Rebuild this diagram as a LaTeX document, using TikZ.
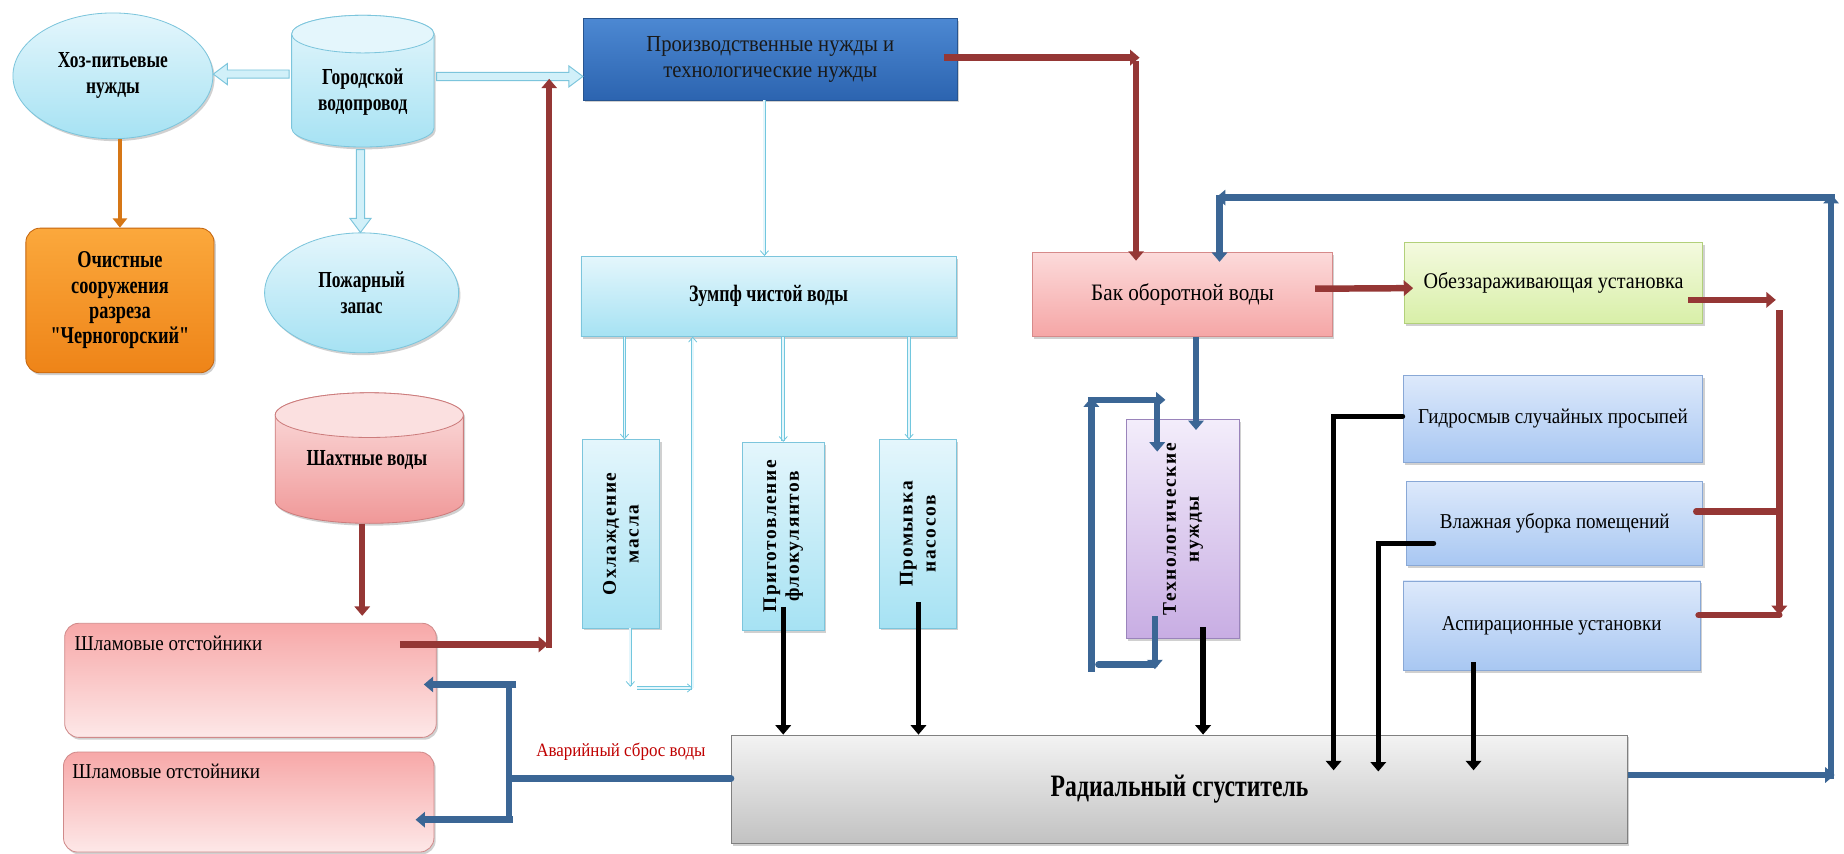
\documentclass[tikz,border=0pt]{standalone}
\usepackage{fontspec}
\setmainfont{Liberation Serif}[FakeStretch=0.76]
\newfontfamily\regf{Liberation Serif}[FakeStretch=0.9]
\newfontfamily\plainq{Liberation Serif}[FakeStretch=0.76]
\newfontfamily\rotfont{Liberation Serif}[LetterSpace=8]
\usetikzlibrary{arrows.meta,calc,shadows,shapes.geometric}
\definecolor{lbT}{HTML}{E4F6FC}\definecolor{lbB}{HTML}{A6E2F3}\definecolor{lbD}{HTML}{7CC5DC}
\definecolor{orT}{HTML}{FBA83C}\definecolor{orB}{HTML}{EE8418}\definecolor{orD}{HTML}{C4650E}
\definecolor{pbT}{HTML}{4C88D2}\definecolor{pbB}{HTML}{2C64B0}\definecolor{pbD}{HTML}{27548F}
\definecolor{pkT}{HTML}{FCDADA}\definecolor{pkB}{HTML}{F5A6A6}\definecolor{pkD}{HTML}{D68A8A}
\definecolor{grT}{HTML}{F4FADF}\definecolor{grB}{HTML}{D8EFA8}\definecolor{grD}{HTML}{B2D07A}
\definecolor{lvT}{HTML}{F3EDFB}\definecolor{lvB}{HTML}{C8ADE3}\definecolor{lvD}{HTML}{9A84BB}
\definecolor{skT}{HTML}{DDE9FB}\definecolor{skB}{HTML}{A8C7F2}\definecolor{skD}{HTML}{89A8D6}
\definecolor{gyT}{HTML}{F3F3F3}\definecolor{gyB}{HTML}{C2C2C2}\definecolor{gyD}{HTML}{808080}
\definecolor{shT}{HTML}{FBE0E0}\definecolor{shB}{HTML}{F09898}\definecolor{shD}{HTML}{CC7C7C}
\definecolor{slT}{HTML}{F7A8A8}\definecolor{slB}{HTML}{FDE8E8}\definecolor{slD}{HTML}{D08A8A}
\definecolor{brn}{HTML}{953735}\definecolor{stb}{HTML}{3B6695}\definecolor{lbl}{HTML}{72C7DE}
\definecolor{redt}{HTML}{C00000}
\def\hs{3.5}\def\hw{9}\def\hl{12}
\newcommand\hollowR[2]{\filldraw[hollowarrow] ($(#1)+(0,-\hs)$) -- ($(#2)+(-\hl,-\hs)$) -- ($(#2)+(-\hl,-\hw)$) -- (#2) -- ($(#2)+(-\hl,\hw)$) -- ($(#2)+(-\hl,\hs)$) -- ($(#1)+(0,\hs)$) -- cycle;}
\newcommand\hollowL[2]{\filldraw[hollowarrow] ($(#1)+(0,-\hs)$) -- ($(#2)+(\hl,-\hs)$) -- ($(#2)+(\hl,-\hw)$) -- (#2) -- ($(#2)+(\hl,\hw)$) -- ($(#2)+(\hl,\hs)$) -- ($(#1)+(0,\hs)$) -- cycle;}
\newcommand\hollowD[2]{\filldraw[hollowarrow] ($(#1)+(-\hs,0)$) -- ($(#2)+(-\hs,-\hl)$) -- ($(#2)+(-\hw,-\hl)$) -- (#2) -- ($(#2)+(\hw,-\hl)$) -- ($(#2)+(\hs,-\hl)$) -- ($(#1)+(\hs,0)$) -- cycle;}
\newcommand\cyl[7]{%
  \path[#6] ({#1-#3/2},{#2-#4/2+#5}) -- ({#1-#3/2},{#2+#4/2-#5})
     arc[start angle=180,end angle=0,x radius=#3/2,y radius=#5]
     -- ({#1+#3/2},{#2-#4/2+#5})
     arc[start angle=0,end angle=-180,x radius=#3/2,y radius=#5] -- cycle;
  \path[#7] (#1,{#2-#4/2+#5}) ellipse[x radius=#3/2,y radius=#5];}
\begin{document}
\begin{tikzpicture}[x=1pt,y=-1pt,
  shd/.style={drop shadow={shadow xshift=1.5pt,shadow yshift=-2pt,opacity=.3,fill=black!60}},
  bx/.style={rectangle,line width=0.7pt,shd,inner sep=2pt,align=center,text=black},
  el/.style={ellipse,line width=0.7pt,shd,inner sep=0pt,align=center},
  lb/.style={draw=lbD,top color=lbT,bottom color=lbB},
  f18b/.style={font=\fontsize{19.5}{22}\selectfont\bfseries},
  f19r/.style={font=\regf\fontsize{19}{22}\selectfont},
  f18r/.style={font=\regf\fontsize{18}{21}\selectfont},
  rot/.style={font=\rotfont\fontsize{16.5}{19.5}\selectfont\bfseries,align=center,rotate=90,inner sep=0pt},
  hollowarrow/.style={draw=lbD,fill=lbT!70!lbB,line width=0.8pt,line join=miter},
  thinb/.style={draw=lbl,line width=0.7pt,double=lbT,double distance=1.6pt,-{Straight Barb[length=4pt,width=7pt]}},
  brw/.style={draw=brn,line width=5.5pt},
  blu/.style={draw=stb,line width=5.5pt},
  blk/.style={draw=black,line width=4.5pt},
  arr/.style={-{Triangle[length=8pt,width=13pt]}},
  rcap/.style={line cap=round}]
\useasboundingbox (0,0) rectangle (1568,726);
\fill[white] (0,0) rectangle (1568,726);

% ---- top-left group
\node[el,lb,f18b,minimum width=170,minimum height=107] (hoz) at (96,64.5) {Хоз-питьевые\\нужды};
\cyl{308.5}{69}{121}{112}{16}{draw=lbD,line width=0.7pt,top color=lbT,bottom color=lbB,shd}{draw=lbD,line width=0.7pt,fill=lbT}
\node[minimum width=121,minimum height=112,inner sep=0pt] (gor) at (308.5,69) {};
\node[f18b,align=center] (gort) at (308.5,78) {Городской\\водопровод};
\node[el,lb,f18b,minimum width=165,minimum height=102] (poz) at (307.5,249) {Пожарный\\запас};
\node[bx,draw=orD,top color=orT,bottom color=orB,rounded corners=12pt,minimum width=160,minimum height=123,font=\fontsize{20.5}{21.5}\selectfont\bfseries] (och) at (102,255.5) {Очистные\\сооружения\\разреза\\{\plainq\bfseries"}Черногорский{\plainq\bfseries"}};

% ---- Шахтные воды
\cyl{314}{389.5}{160}{111}{19}{draw=shD,line width=0.7pt,top color=shT,bottom color=shB,shd}{draw=shD,line width=0.7pt,fill=shT}
\node[minimum width=160,minimum height=111,inner sep=0pt] (shaht) at (314,389.5) {};
\node[f18b] (shahtt) at (312,391) {Шахтные воды};

% ---- Шламовые
\node[bx,draw=slD,top color=slT,bottom color=slB,rounded corners=12pt,minimum width=316,minimum height=97] (shl1) at (213,578.5) {};
\node[f18r,anchor=west] (shl1t) at (60,547) {Шламовые отстойники};
\node[bx,draw=slD,top color=slT,bottom color=slB,rounded corners=12pt,minimum width=315,minimum height=85] (shl2) at (211.5,682) {};
\node[f18r,anchor=west] (shl2t) at (58,656) {Шламовые отстойники};

% ---- center column
\node[bx,draw=pbD,top color=pbT,bottom color=pbB,minimum width=318,minimum height=69,font=\regf\fontsize{19.5}{22}\selectfont,text=black!90] (proizv) at (655,50.5) {Производственные нужды и\\технологические нужды};
\node[bx,lb,minimum width=319,minimum height=68,font=\fontsize{20}{22}\selectfont\bfseries] (zumpf) at (653.5,252) {Зумпф чистой воды};
\node[bx,lb,minimum width=66,minimum height=160] (ohl) at (528,454) {};
\node[rot] (ohlt) at (ohl.center) {Охлаждение\\масла};
\node[bx,lb,minimum width=70,minimum height=160] (prig) at (666,456) {};
\node[rot] (prigt) at (prig.center) {Приготовление\\флокулянтов};
\node[bx,lb,minimum width=65,minimum height=160] (prom) at (780.5,454) {};
\node[rot] (promt) at (prom.center) {Промывка\\насосов};

% ---- right group
\node[bx,draw=pkD,top color=pkT,bottom color=pkB,minimum width=255,minimum height=71,font=\regf\fontsize{20}{22}\selectfont] (bak) at (1005.5,250.5) {Бак оборотной воды};
\node[bx,draw=grD,top color=grT,bottom color=grB,minimum width=254,minimum height=69,f19r] (obez) at (1321,240.5) {Обеззараживающая установка};
\node[bx,draw=lvD,top color=lvT,bottom color=lvB,minimum width=96,minimum height=186] (tehn) at (1006,450) {};
\node[rot] (tehnt) at (tehn.center) {Технологические\\нужды};
\node[bx,draw=skD,top color=skT,bottom color=skB,minimum width=255,minimum height=74,f18r] (gidro) at (1320.5,356) {Гидросмыв случайных просыпей};
\node[bx,draw=skD,top color=skT,bottom color=skB,minimum width=252,minimum height=72,f18r] (vlazh) at (1322,445) {Влажная уборка помещений};
\node[bx,draw=skD,top color=skT,bottom color=skB,minimum width=253,minimum height=76,f18r] (aspir) at (1319.5,532) {Аспирационные установки};
\node[bx,draw=gyD,top color=gyT,bottom color=gyB,minimum width=762,minimum height=92,font=\fontsize{26.5}{29}\selectfont\bfseries] (radial) at (1003,671) {Радиальный сгуститель};
\node[font=\regf\fontsize{16}{18}\selectfont,text=redt] (avar) at (528,639) {Аварийный сброс воды};

% ---- hollow arrows
\coordinate (h1s) at ($(gor.west)+(-2,-6)$);
\coordinate (h1e) at (hoz.east |- h1s);
\hollowL{h1s}{h1e}
\coordinate (h2s) at ($(gor.east)+(2,-4)$);
\coordinate (h2e) at (proizv.west |- h2s);
\hollowR{h2s}{h2e}
\coordinate (h3s) at ($(gor.south)+(-2,2)$);
\coordinate (h3e) at (h3s |- poz.north);
\hollowD{h3s}{h3e}

% orange
\draw[draw=orB!90!black,line width=4pt,-{Triangle[length=8pt,width=12pt]}] (102,0 |- hoz.south) -- (102,0 |- och.north);

% thin light-blue
\draw[thinb] (650,0 |- proizv.south) -- (650,0 |- zumpf.north);
\draw[thinb] (531,0 |- zumpf.south) -- (531,0 |- ohl.north);
\draw[thinb] (536,0 |- ohl.south) -- (536,584);
\draw[thinb] (542,585) -- (589,585);
\draw[thinb] (589,585) -- (589,0 |- zumpf.south);
\draw[thinb] (666,0 |- zumpf.south) -- (666,0 |- prig.north);
\draw[thinb] (773,0 |- zumpf.south) -- (773,0 |- prom.north);

% brown
\draw[brw,arr] ($(proizv.east)+(-12,-1.5)$) -- (969,49);
\draw[brw,arr] (966,52) -- ($(966,0 |- bak.north)+(0,7)$);
\draw[brw,arr] (308,0 |- shaht.south) -- ($(308,0 |- shl1.north)+(0,-6)$);
\draw[brw,arr] (340,548) -- (466,548);
\draw[brw,arr] (467,551) -- (467,67);
\draw[brw,arr] ($(bak.east)+(-15,-5)$) -- ($(obez.west)+(8,4.5)$);
\draw[brw,arr] ($(obez.east)+(-13,14.5)$) -- (1510,255);
\draw[brw,arr] (1513,264) -- (1513,523);
\draw[brw,rcap] (1513,435) -- ($(vlazh.east |- 0,435)+(-6,0)$);
\draw[brw,rcap] (1513,523) -- ($(aspir.east |- 0,523)+(-2,0)$);

% steel blue
\draw[blu,arr] (radial.east |- 0,659) -- (1560,659);
\draw[blu,arr] (1557,662) -- (1557,165);
\draw[blu,arr] (1560,168) -- (1034,168);
\draw[blu,arr] (1037,166) -- ($(1037,0 |- bak.north)+(0,8)$);
\draw[blu,arr] (1017,0 |- bak.south) -- ($(1017,0 |- tehn.north)+(0,9)$);
\draw[blu,arr] (982,524) -- (982,569);
\draw[blu,rcap] (934,565) -- (982,565);
\draw[blu,arr] (928,571) -- (928,338);
\draw[blu,arr] (925,340) -- (991,340);
\draw[blu,arr] (984,343) -- (984,384);
\draw[blu,rcap] (radial.west |- 0,662) -- (434,662);
\draw[blu] (433,579) -- (433,700);
\draw[blu,arr] (439,582) -- ($(shl1.east |- 0,582)+(-11,0)$);
\draw[blu,arr] (436,697) -- ($(shl2.east |- 0,697)+(-16,0)$);

% black
\draw[blk,arr] (666,516) -- (666,0 |- radial.north);
\draw[blk,arr] (781,512) -- (781,0 |- radial.north);
\draw[blk,arr] (1023,533) -- (1023,0 |- radial.north);
\draw[blk,arr,line cap=round] (gidro.west |- 0,354) -- (1134,354) -- (1134,655);
\draw[blk,arr,line cap=round] (1219,462) -- (1172,462) -- (1172,656);
\draw[blk,arr] (1253,563) -- (1253,655);
\end{tikzpicture}
\end{document}
